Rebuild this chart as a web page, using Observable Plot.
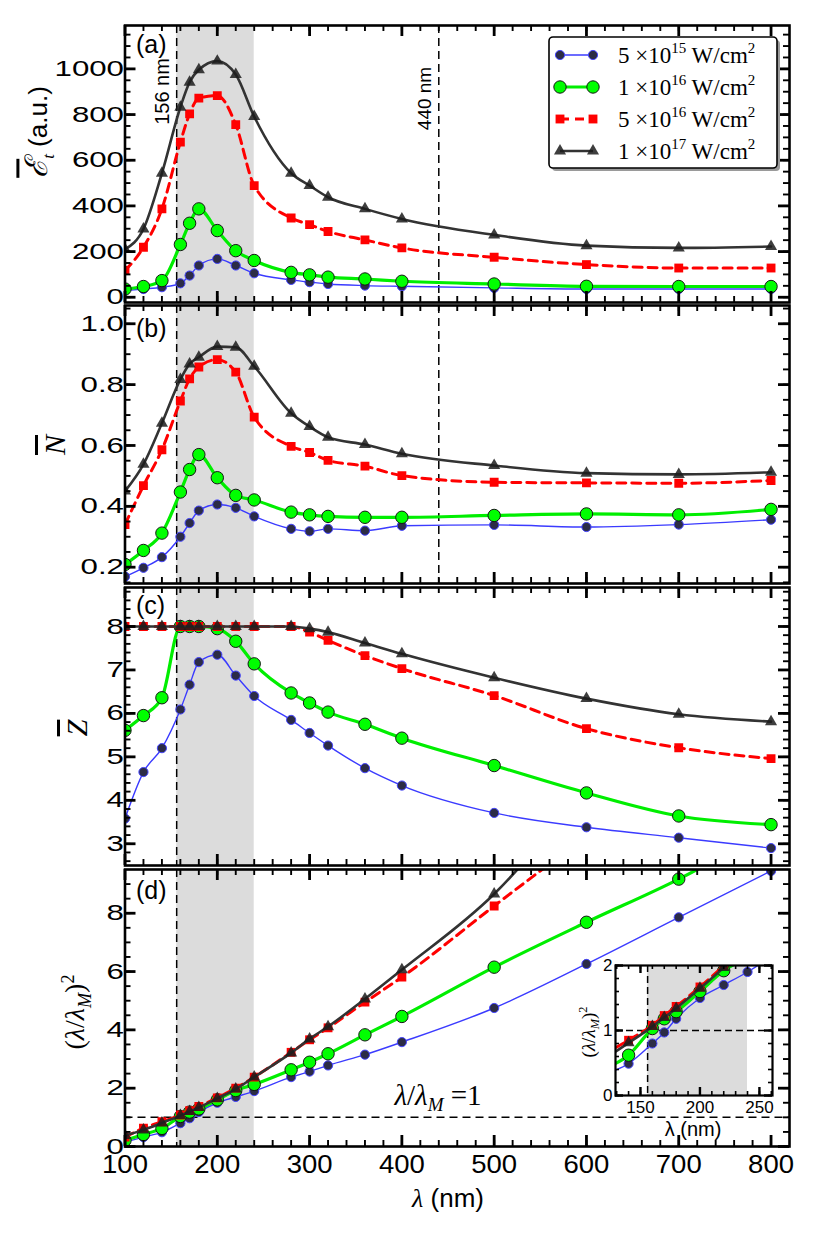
<!DOCTYPE html>
<html>
<head>
<meta charset="utf-8">
<script src="https://cdn.jsdelivr.net/npm/d3@7"></script>
<script src="https://cdn.jsdelivr.net/npm/@observablehq/plot@0.6"></script>
<style>
  body { margin: 0; background: #fff; }
  #chart { position: relative; width: 830px; height: 1246px; overflow: hidden; background: #fff;
           font-family: "Liberation Sans", Arial, sans-serif; }
  .pnl { position: absolute; left: 0; }
  .lab { position: absolute; white-space: nowrap; transform: translate(-50%, -50%); line-height: 1; color: #000; }
  .rot { transform: translate(-50%, -50%) rotate(-90deg); }
  .serif { font-family: "Liberation Serif", "DejaVu Serif", serif; }
  .ov { text-decoration: overline; }
  sub, sup { font-size: 0.65em; line-height: 0; }
</style>
</head>
<body>
<div id="chart"></div>
<script>
// ---------------- data ----------------
const wavelengths = [100,120,140,160,170,180,200,220,240,280,300,320,360,400,500,600,700,800];
const intensityKeys = ["5e15", "1e16", "5e16", "1e17"];
const intensityExponents = [["5", "15"], ["1", "16"], ["5", "16"], ["1", "17"]];

// (a) mean energy
const Et_5e15 = [29,36,44,61,95,139,168,139,105,76,66,58,51,48,41,36,36,36];
const Et_1e16 = [36,47,73,231,324,387,292,204,161,109,98,88,80,70,58,48,47,47];
const Et_5e16 = [117,219,387,679,803,872,883,756,489,347,318,288,251,216,175,143,128,128];
const Et_1e17 = [210,299,543,832,942,996,1034,975,791,543,489,438,387,343,273,226,216,222];

// (b) mean N
const N_5e15 = [0.169,0.198,0.233,0.300,0.345,0.386,0.406,0.395,0.367,0.326,0.318,0.326,0.320,0.336,0.339,0.332,0.340,0.356];
const N_1e16 = [0.209,0.255,0.312,0.447,0.521,0.570,0.494,0.436,0.421,0.381,0.372,0.367,0.364,0.364,0.370,0.375,0.372,0.390];
const N_5e16 = [0.340,0.468,0.586,0.746,0.819,0.858,0.882,0.841,0.693,0.597,0.577,0.551,0.532,0.501,0.479,0.477,0.476,0.485];
const N_1e17 = [0.450,0.538,0.673,0.817,0.868,0.890,0.925,0.923,0.860,0.706,0.662,0.627,0.603,0.573,0.534,0.509,0.505,0.512];

// (c) mean Z
const Z_5e15 = [3.58,4.65,5.20,6.09,6.66,7.18,7.35,6.87,6.40,5.85,5.55,5.26,4.74,4.34,3.71,3.38,3.14,2.90];
const Z_1e16 = [5.61,5.95,6.36,8.00,8.00,8.00,7.95,7.66,7.14,6.47,6.24,6.03,5.75,5.43,4.80,4.17,3.64,3.44];
const Z_5e16 = [8,8,8,8,8,8,8,8,8,8,7.87,7.68,7.33,7.03,6.41,5.65,5.21,4.96];
const Z_1e17 = [8,8,8,8,8,8,8,8,8,8,7.95,7.87,7.62,7.37,6.82,6.34,5.98,5.81];

// (d) (lambda/lambda_M)^2
const R_5e15 = [0.15,0.32,0.49,0.80,0.97,1.18,1.50,1.70,1.90,2.38,2.57,2.78,3.15,3.58,4.75,6.26,7.86,9.45];
const R_1e16 = [0.21,0.41,0.62,1.03,1.18,1.29,1.60,1.92,2.13,2.63,2.89,3.18,3.83,4.46,6.15,7.69,9.17,10.9];
const R_5e16 = [0.32,0.63,0.85,1.08,1.23,1.37,1.67,2.00,2.38,3.23,3.66,4.07,4.95,5.81,8.25,10.7,13.5,16.5];
const R_1e17 = [0.38,0.57,0.81,1.06,1.20,1.34,1.65,1.97,2.38,3.21,3.69,4.11,5.06,6.06,8.66,12.3,16.5,21.0];

// ticks / annotations
const xMajorTicks = [100,200,300,400,500,600,700,800];
const xMinorTicks = d3.range(5, 41).map(i => i * 20);
const aYTicks = [0,200,400,600,800,1000];
const bYTicks = [0.2,0.4,0.6,0.8,1.0];
const cYTicks = [3,4,5,6,7,8];
const dYTicks = [0,2,4,6,8];
const insetXTicks = [150,200,250];
const insetYTicks = [0,1,2];
const shadedBand = [{x1: 156, x2: 240}];
const markerLines = [156, 440];
const unityLine = [1];
const panelLabels = ["(a)", "(b)", "(c)", "(d)"];
const RATIO_TEXT = "λ/λM =1";

// ---------------- styles ----------------
const styles = {
  "5e15": {line: {stroke: "#3b3bff", strokeWidth: 1.4},
           dot: {symbol: "circle", r: 4.6, fill: "#2c2c46", stroke: "#4545ff", strokeWidth: 1}},
  "1e16": {line: {stroke: "#00ee00", strokeWidth: 3.2},
           dot: {symbol: "circle", r: 6.2, fill: "#00ff00", stroke: "#151515", strokeWidth: 1}},
  "5e16": {line: {stroke: "#ff0000", strokeWidth: 3, strokeDasharray: "9,6"},
           dot: {symbol: "square", r: 5, fill: "#ff0000"}},
  "1e17": {line: {stroke: "#333333", strokeWidth: 2.6},
           dot: {symbol: "triangle", r: 4.5, fill: "#1c1c1c", fillOpacity: 0.85}}
};

const W = 830, ML = 124.5, MR = 41, FW = W - ML - MR;
const X_DOMAIN = [100, 820];
const chart = document.getElementById("chart");

function seriesMarks(arrays) {
  const marks = [];
  intensityKeys.forEach((key, k) => {
    const rows = wavelengths.map((x, i) => ({x, y: arrays[k][i]}));
    const s = styles[key];
    marks.push(Plot.line(rows, {x: "x", y: "y", curve: "monotone-x", clip: true, ...s.line}));
    marks.push(Plot.dot(rows, {x: "x", y: "y", clip: true, ...s.dot}));
  });
  return marks;
}

function frameTicks(xMaj, xMin, yMaj, yMin, fw, fh, L, l, w1, w2) {
  return [
    Plot.ruleX(xMin, {insetTop: fh - l, strokeWidth: w2}),
    Plot.ruleX(xMin, {insetBottom: fh - l, strokeWidth: w2}),
    Plot.ruleX(xMaj, {insetTop: fh - L, strokeWidth: w1}),
    Plot.ruleX(xMaj, {insetBottom: fh - L, strokeWidth: w1}),
    Plot.ruleY(yMin, {insetRight: fw - l, strokeWidth: w2}),
    Plot.ruleY(yMin, {insetLeft: fw - l, strokeWidth: w2}),
    Plot.ruleY(yMaj, {insetRight: fw - L, strokeWidth: w1}),
    Plot.ruleY(yMaj, {insetLeft: fw - L, strokeWidth: w1})
  ];
}

// widen tick labels horizontally (the reference's tick font is wide)
function stretchTicks(svg, ml, mt, fh, syx, sxx) {
  const sr = svg.getBoundingClientRect();
  svg.querySelectorAll("text").forEach(t => {
    const r = t.getBoundingClientRect();
    const right = r.right - sr.left, top = r.top - sr.top;
    if (!/^[0-9.]+$/.test(t.textContent.trim())) return;
    let sx = null;
    if (right <= ml + 2 && r.height < 40) sx = syx;
    else if (top > mt + fh - 2) sx = sxx;
    if (sx) t.setAttribute("transform", (t.getAttribute("transform") || "") + ` scale(${sx} 1)`);
  });
}

function panel({frameTop, frameH, mt, mb, yDomain, yMajor, yMinor, yFormat, arrays, label, labelDy, extra = [], xLabels = false}) {
  const marks = [
    Plot.rect(shadedBand, {x1: "x1", x2: "x2", fill: "#dcdcdc"}),
    ...extra,
    Plot.ruleX(markerLines.slice(0, 1), {stroke: "#000", strokeWidth: 1.5, strokeDasharray: "8,5"}),
    ...seriesMarks(arrays),
    ...frameTicks(xMajorTicks, xMinorTicks, yMajor, yMinor, FW, frameH, 11, 6, 2.8, 1.9),
    Plot.frame({stroke: "#000", strokeWidth: 2.6}),
    Plot.axisY(yMajor, {tickSize: 0, tickPadding: 1, fontSize: 22, tickFormat: yFormat, label: null}),
    Plot.text([label], {text: d => d, frameAnchor: "top-left", textAnchor: "start", lineAnchor: "top",
                        dx: 11, dy: labelDy, fontSize: 25})
  ];
  if (xLabels) marks.push(Plot.axisX(xMajorTicks, {tickSize: 0, tickPadding: 9, fontSize: 25, tickFormat: d => String(d), label: null}));
  const svg = Plot.plot({
    width: W, height: frameH + mt + mb,
    marginLeft: ML, marginRight: MR, marginTop: mt, marginBottom: mb,
    style: "background:transparent;overflow:visible;font-family:'Liberation Sans',Arial,sans-serif;color:#000;",
    x: {domain: X_DOMAIN, axis: null},
    y: {domain: yDomain, axis: null},
    marks
  });
  const div = document.createElement("div");
  div.className = "pnl";
  div.style.top = (frameTop - mt) + "px";
  div.appendChild(svg);
  chart.appendChild(div);
  stretchTicks(svg, ML, mt, frameH, 1.42, 1.1);
  return svg;
}

const r2 = v => Math.round(v * 1000) / 1000;

// (a)
panel({frameTop: 25, frameH: 277, mt: 25, mb: 2, yDomain: [-23, 1190],
  yMajor: aYTicks, yMinor: d3.range(0, 24).map(i => i * 50), yFormat: d => String(d),
  arrays: [Et_5e15, Et_1e16, Et_5e16, Et_1e17], label: panelLabels[0], labelDy: 10,
  extra: [
    Plot.ruleX(markerLines.slice(1), {stroke: "#000", strokeWidth: 1.5, strokeDasharray: "8,5"}),
    Plot.text(markerLines.slice(0, 1), {x: d => d, text: d => `${d} nm`, frameAnchor: "top", rotate: -90,
      textAnchor: "middle", lineAnchor: "middle", dx: -14.5, dy: 66, fontSize: 20}),
    Plot.text(markerLines.slice(1), {x: d => d, text: d => `${d} nm`, frameAnchor: "top", rotate: -90,
      textAnchor: "middle", lineAnchor: "middle", dx: -14, dy: 73, fontSize: 19})
  ]});

// (b)
panel({frameTop: 305, frameH: 278, mt: 2, mb: 2, yDomain: [0.1464, 1.060],
  yMajor: bYTicks, yMinor: d3.range(3, 22).map(i => r2(i * 0.05)), yFormat: d3.format(".1f"),
  arrays: [N_5e15, N_1e16, N_5e16, N_1e17], label: panelLabels[1], labelDy: 14,
  extra: [Plot.ruleX(markerLines.slice(1), {stroke: "#000", strokeWidth: 1.5, strokeDasharray: "8,5"})]});

// (c)
panel({frameTop: 587, frameH: 278, mt: 2, mb: 2, yDomain: [2.50, 8.897],
  yMajor: cYTicks, yMinor: d3.range(13, 45).map(i => r2(i * 0.2)), yFormat: d => String(d),
  arrays: [Z_5e15, Z_1e16, Z_5e16, Z_1e17], label: panelLabels[2], labelDy: 9});

// (d)
const svgD = panel({frameTop: 869, frameH: 277, mt: 2, mb: 100, yDomain: [0, 9.5],
  yMajor: dYTicks, yMinor: d3.range(0, 19).map(i => i * 0.5), yFormat: d => String(d),
  arrays: [R_5e15, R_1e16, R_5e16, R_1e17], label: panelLabels[3], labelDy: 12, xLabels: true,
  extra: [
    Plot.ruleY(unityLine, {stroke: "#000", strokeWidth: 1.5, strokeDasharray: "8,5"}),
    Plot.text(unityLine, {y: d => d, text: () => RATIO_TEXT, frameAnchor: "left", textAnchor: "middle",
      lineAnchor: "middle", dx: 313, dy: -22, fontSize: 29, fontFamily: "Liberation Serif, serif"})
  ]});
svgD.querySelectorAll("text").forEach(node => {
  if (node.textContent !== RATIO_TEXT) return;
  const t = d3.select(node);
  t.text(null);
  t.append("tspan").attr("font-style", "italic").text("λ");
  t.append("tspan").text("/");
  t.append("tspan").attr("font-style", "italic").text("λ");
  t.append("tspan").attr("font-style", "italic").attr("font-size", 19).attr("dy", 6).text("M");
  t.append("tspan").attr("dy", -6).text(" =1");
});

// inset
{
  const iml = 30, imr = 8, imt = 8, imb = 45, ifw = 157, ifh = 130;
  const svg = Plot.plot({
    width: ifw + iml + imr, height: ifh + imt + imb,
    marginLeft: iml, marginRight: imr, marginTop: imt, marginBottom: imb,
    style: "background:transparent;overflow:visible;font-family:'Liberation Sans',Arial,sans-serif;color:#000;",
    x: {domain: [129, 261], axis: null},
    y: {domain: [0, 2], axis: null},
    marks: [
      Plot.frame({fill: "#fff"}),
      Plot.rect(shadedBand, {x1: "x1", x2: "x2", fill: "#dcdcdc"}),
      Plot.ruleX(markerLines.slice(0, 1), {stroke: "#000", strokeWidth: 1.5, strokeDasharray: "7,4"}),
      Plot.ruleY(unityLine, {stroke: "#000", strokeWidth: 1.5, strokeDasharray: "7,4"}),
      ...seriesMarks([R_5e15, R_1e16, R_5e16, R_1e17]),
      ...frameTicks(insetXTicks, d3.range(13, 27).map(i => i * 10), insetYTicks, d3.range(0, 11).map(i => r2(i * 0.2)),
                    ifw, ifh, 8, 4, 2.4, 1.6),
      Plot.frame({stroke: "#000", strokeWidth: 2.2}),
      Plot.axisY(insetYTicks, {tickSize: 0, tickPadding: 3, fontSize: 17, tickFormat: d => String(d), label: null}),
      Plot.axisX(insetXTicks, {tickSize: 0, tickPadding: 5, fontSize: 17, tickFormat: d => String(d), label: null})
    ]
  });
  const div = document.createElement("div");
  div.className = "pnl";
  div.style.left = (615 - iml) + "px";
  div.style.top = (965 - imt) + "px";
  div.appendChild(svg);
  chart.appendChild(div);
}

// axis titles (HTML text)
function addLabel(html, x, y, size, cls) {
  const d = document.createElement("div");
  d.className = "lab " + (cls || "");
  d.style.left = x + "px";
  d.style.top = y + "px";
  d.style.fontSize = size + "px";
  d.innerHTML = html;
  chart.appendChild(d);
}
addLabel('<span class="ov serif" style="font-style:italic;font-size:1.2em">ℰ</span><sub class="serif" style="font-style:italic">t</sub> (a.u.)', 37, 132, 26, "rot");
addLabel('<span class="ov serif" style="font-style:italic">N</span>', 55, 445, 30, "rot");
addLabel('<span class="ov serif" style="font-style:italic">Z</span>', 77, 728, 30, "rot");
addLabel('<span class="serif">(<i>λ</i>/<i>λ</i><sub><i>M</i></sub>)<sup>2</sup></span>', 75, 1012, 28, "rot");
addLabel('<i class="serif">λ</i> (nm)', 448, 1198, 26, "");
addLabel('<span class="serif">(<i>λ</i>/<i>λ</i><sub><i>M</i></sub>)<sup>2</sup></span>', 588, 1032, 19, "rot");
addLabel('λ (nm)', 693, 1129, 20, "");

// legend
{
  const lx = 549, ly = 37, lw = 228, lh = 131;
  const svg = d3.create("svg").attr("width", 830).attr("height", 200)
    .style("position", "absolute").style("left", "0px").style("top", "0px").style("overflow", "visible");
  svg.append("rect").attr("x", lx + 3).attr("y", ly + 3).attr("width", lw).attr("height", lh)
    .attr("rx", 4).attr("fill", "#9a9a9a");
  svg.append("rect").attr("x", lx).attr("y", ly).attr("width", lw).attr("height", lh)
    .attr("rx", 4).attr("fill", "#fff").attr("stroke", "#000").attr("stroke-width", 1.6);
  const symMap = {circle: d3.symbolCircle, square: d3.symbolSquare, triangle: d3.symbolTriangle};
  intensityKeys.forEach((key, k) => {
    const yy = 55 + k * 32;
    const s = styles[key];
    svg.append("line").attr("x1", 560).attr("x2", 593).attr("y1", yy).attr("y2", yy)
      .attr("stroke", s.line.stroke).attr("stroke-width", s.line.strokeWidth)
      .attr("stroke-dasharray", s.line.strokeDasharray || null);
    [560, 593].forEach(px => {
      svg.append("path").attr("d", d3.symbol(symMap[s.dot.symbol], Math.PI * s.dot.r * s.dot.r)())
        .attr("transform", `translate(${px},${yy})`)
        .attr("fill", s.dot.fill).attr("fill-opacity", s.dot.fillOpacity || 1)
        .attr("stroke", s.dot.stroke || "none").attr("stroke-width", s.dot.strokeWidth || 0);
    });
    const [m, e] = intensityExponents[k];
    const t = svg.append("text").attr("x", 618).attr("y", yy + 8)
      .attr("font-family", "Liberation Serif, serif").attr("font-size", 23).attr("fill", "#000");
    t.append("tspan").text(`${m} ×10`);
    t.append("tspan").attr("font-size", 15).attr("dy", -10).text(e);
    t.append("tspan").attr("dy", 10).text(" W/cm");
    t.append("tspan").attr("font-size", 15).attr("dy", -10).text("2");
  });
  chart.appendChild(svg.node());
}
</script>
</body>
</html>
